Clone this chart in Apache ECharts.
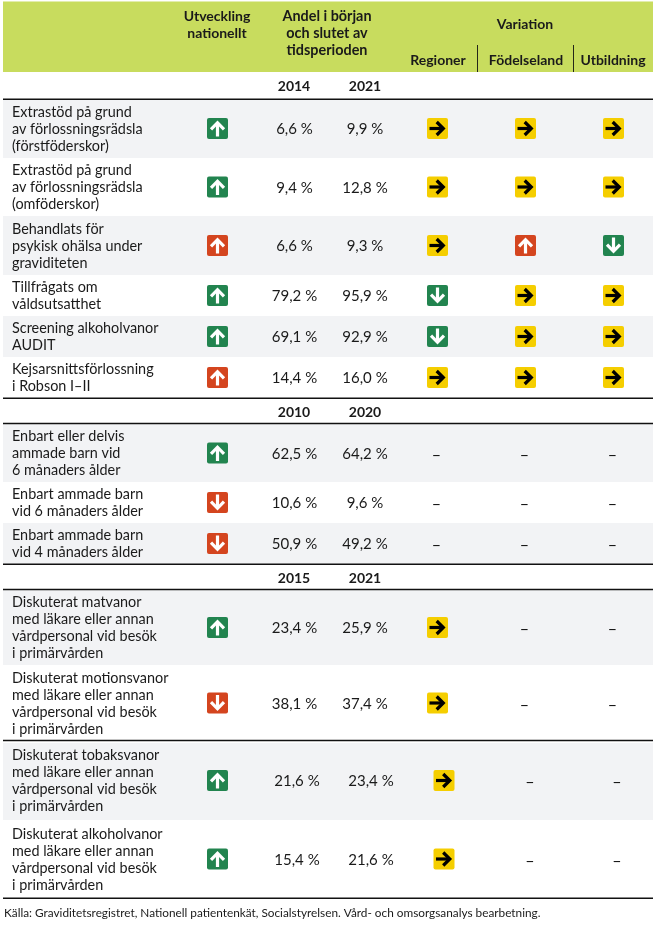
<!DOCTYPE html>
<html>
<head>
<meta charset="utf-8">
<style>
html, body { margin: 0; padding: 0; background: #fff; }
#main { width: 658px; height: 943px; }
</style>
<script src="https://cdn.jsdelivr.net/npm/echarts@6/dist/echarts.min.js"></script>
</head>
<body>
<div id="main"></div>
<script>
// data
var rowLabels = [
	'Extrastöd på grund\nav förlossningsrädsla\n(förstföderskor)',
	'Extrastöd på grund\nav förlossningsrädsla\n(omföderskor)',
	'Behandlats för\npsykisk ohälsa under\ngraviditeten',
	'Tillfrågats om\nvåldsutsatthet',
	'Screening alkoholvanor\nAUDIT',
	'Kejsarsnittsförlossning\ni Robson I–II',
	'Enbart eller delvis\nammade barn vid\n6 månaders ålder',
	'Enbart ammade barn\nvid 6 månaders ålder',
	'Enbart ammade barn\nvid 4 månaders ålder',
	'Diskuterat matvanor\nmed läkare eller annan\nvårdpersonal vid besök\ni primärvården',
	'Diskuterat motionsvanor\nmed läkare eller annan\nvårdpersonal vid besök\ni primärvården',
	'Diskuterat tobaksvanor\nmed läkare eller annan\nvårdpersonal vid besök\ni primärvården',
	'Diskuterat alkoholvanor\nmed läkare eller annan\nvårdpersonal vid besök\ni primärvården'
];
var startValues = [6.6, 9.4, 6.6, 79.2, 69.1, 14.4, 62.5, 10.6, 50.9, 23.4, 38.1, 21.6, 15.4];
var endValues = [9.9, 12.8, 9.3, 95.9, 92.9, 16.0, 64.2, 9.6, 49.2, 25.9, 37.4, 23.4, 21.6];
// g = grön upp, r = röd upp, d = röd ned
var trend = ['g', 'g', 'r', 'g', 'g', 'r', 'g', 'd', 'd', 'g', 'd', 'g', 'g'];
// y = gul höger, g = grön ned, r = röd upp, - = saknas
var regioner = ['y', 'y', 'y', 'g', 'g', 'y', '-', '-', '-', 'y', 'y', 'y', 'y'];
var fodelseland = ['y', 'y', 'r', 'y', 'y', 'y', '-', '-', '-', '-', '-', '-', '-'];
var utbildning = ['y', 'y', 'g', 'y', 'y', 'y', '-', '-', '-', '-', '-', '-', '-'];
var yearStart = ['2014', '2010', '2015'];
var yearEnd = ['2021', '2020', '2021'];
var headTrend = 'Utveckling\nnationellt';
var headShare = 'Andel i början\noch slutet av\ntidsperioden';
var headVariation = 'Variation';
var headColumns = ['Regioner', 'Födelseland', 'Utbildning'];
var sourceText = 'Källa: Graviditetsregistret, Nationell patientenkät, Socialstyrelsen. Vård- och omsorgsanalys bearbetning.';

// layout
var rowEdges = [99, 158, 216, 275, 316, 357, 398, 424, 482, 523, 564, 590, 665, 741, 820, 898];
var rowSlots = [0, 1, 2, 3, 4, 5, 7, 8, 9, 11, 12, 13, 14];
var yearSlots = [[73, 99], [399, 425], [565, 591]];
var shadedBands = [[99.5, 158], [216, 275], [316, 357], [424, 482], [523, 564], [590, 665], [743, 820]];
var hLines = [99.3, 398.3, 423.6, 564.3, 589.5, 740.5, 898.3];
var colX = { label: 12, trend: 217.5, start: 294.5, end: 365, reg: 437.5, fod: 525.5, utb: 613.5 };
var lastRowsShift = { start: 2.5, end: 6, reg: 6.5, fod: 5.5, utb: 4.5 };
var left = 3, right = 653;

var FONT = 'Lato';
var GREEN = '#22844f', RED = '#d4451f', YELLOW = '#f5ce00', LIME = '#c8dc5e', BAND = '#f2f3f5';

function rowMid(i) {
	var s = rowSlots[i];
	return (rowEdges[s] + rowEdges[s + 1]) / 2;
}
function shift(i, key) {
	return i >= 11 ? lastRowsShift[key] : 0;
}

// en ikon: rundad ruta med pil
function iconGroup(p, fill, dir, stroke) {
	var pts = {
		up: [[[0, 8], [0, -5]], [[-6.5, 0.8], [0, -5.8], [6.5, 0.8]]],
		down: [[[0, -8], [0, 5]], [[-6.5, -0.8], [0, 5.8], [6.5, -0.8]]],
		right: [[[-8, 0], [5, 0]], [[-0.8, -6.5], [5.8, 0], [-0.8, 6.5]]]
	}[dir];
	var kids = [{
		type: 'rect',
		shape: { x: p[0] - 10.5, y: p[1] - 10.5, width: 21, height: 21, r: 2 },
		style: { fill: fill }
	}];
	pts.forEach(function(line) {
		kids.push({
			type: 'polyline',
			shape: { points: line.map(function(q) { return [p[0] + q[0], p[1] + q[1]]; }) },
			style: { fill: null, stroke: stroke, lineWidth: 3.2, lineJoin: 'miter' }
		});
	});
	return { type: 'group', children: kids };
}

function textEl(p, str, size, weight, align, color) {
	return {
		type: 'text',
		style: {
			x: p[0], y: p[1], text: str, fill: color || '#1a1a1a',
			font: weight + ' ' + size + 'px ' + FONT,
			align: align, verticalAlign: 'middle', lineHeight: 17
		}
	};
}

function pct(v) {
	return v.toFixed(1).replace('.', ',') + ' %';
}

var chart = echarts.init(document.getElementById('main'), null, { renderer: 'canvas' });

chart.setOption({
	animation: false,
	backgroundColor: '#fff',
	grid: { left: 0, right: 0, top: 0, bottom: 0 },
	xAxis: { type: 'value', min: 0, max: 658, show: false },
	yAxis: { type: 'value', min: 0, max: 943, inverse: true, show: false },
	series: [
		{
			// bakgrund och linjer
			type: 'custom',
			coordinateSystem: 'cartesian2d',
			silent: true,
			data: [0],
			renderItem: function(params, api) {
				var kids = [];
				function box(y0, y1, x0, x1, fill) {
					var a = api.coord([x0, y0]), b = api.coord([x1, y1]);
					kids.push({ type: 'rect', shape: { x: a[0], y: a[1], width: b[0] - a[0], height: b[1] - a[1] }, style: { fill: fill } });
				}
				box(1.5, 72, left, right, LIME);
				shadedBands.forEach(function(b) {
					box(b[0], b[1], left, right, BAND);
				});
				hLines.forEach(function(y) {
					box(y - 0.75, y + 0.75, left, right, '#111');
				});
				box(45, 72, 477, 477.9, '#111');
				box(45, 72, 573, 573.9, '#111');
				return { type: 'group', children: kids };
			}
		},
		{
			// rubriker
			type: 'custom',
			coordinateSystem: 'cartesian2d',
			silent: true,
			data: [0],
			z: 3,
			renderItem: function(params, api) {
				var kids = [
					textEl(api.coord([217, 24.5]), headTrend, 14, 'bold', 'center'),
					textEl(api.coord([327, 33]), headShare, 14.4, 'bold', 'center'),
					textEl(api.coord([525, 24]), headVariation, 14, 'bold', 'center'),
					textEl(api.coord([438, 60]), headColumns[0], 14, 'bold', 'center'),
					textEl(api.coord([526, 60]), headColumns[1], 14, 'bold', 'center'),
					textEl(api.coord([613, 60]), headColumns[2], 14, 'bold', 'center'),
					textEl(api.coord([4, 913]), sourceText, 11.8, 'normal', 'left')
				];
				yearSlots.forEach(function(s, i) {
					var y = (s[0] + s[1]) / 2;
					kids.push(textEl(api.coord([294, y]), yearStart[i], 14, 'bold', 'center'));
					kids.push(textEl(api.coord([365, y]), yearEnd[i], 14, 'bold', 'center'));
				});
				return { type: 'group', children: kids };
			}
		},
		{
			// rader
			type: 'custom',
			coordinateSystem: 'cartesian2d',
			silent: true,
			data: rowLabels.map(function(l, i) { return i; }),
			encode: { x: 0 },
			z: 3,
			renderItem: function(params, api) {
				var i = params.dataIndex;
				var y = rowMid(i);
				var kids = [
					textEl(api.coord([colX.label, y + 0.8]), rowLabels[i], 14.4, 'normal', 'left'),
					textEl(api.coord([colX.start + shift(i, 'start'), y + 0.8]), pct(startValues[i]), 15, 'normal', 'center'),
					textEl(api.coord([colX.end + shift(i, 'end'), y + 0.8]), pct(endValues[i]), 15, 'normal', 'center')
				];
				var t = trend[i];
				kids.push(iconGroup(api.coord([colX.trend, y]), t === 'g' ? GREEN : RED, t === 'd' ? 'down' : 'up', '#fff'));
				[['reg', regioner], ['fod', fodelseland], ['utb', utbildning]].forEach(function(c) {
					var v = c[1][i];
					if (v === '-') {
						kids.push(textEl(api.coord([colX[c[0]] + shift(i, c[0]) - 1, y + 1.5]), '–', 16, 'normal', 'center', '#000'));
						return;
					}
					var p = api.coord([colX[c[0]] + shift(i, c[0]), y]);
					if (v === 'y') {
						kids.push(iconGroup(p, YELLOW, 'right', '#000'));
					} else if (v === 'g') {
						kids.push(iconGroup(p, GREEN, 'down', '#fff'));
					} else {
						kids.push(iconGroup(p, RED, 'up', '#fff'));
					}
				});
				return { type: 'group', children: kids };
			}
		}
	]
});
</script>
</body>
</html>
